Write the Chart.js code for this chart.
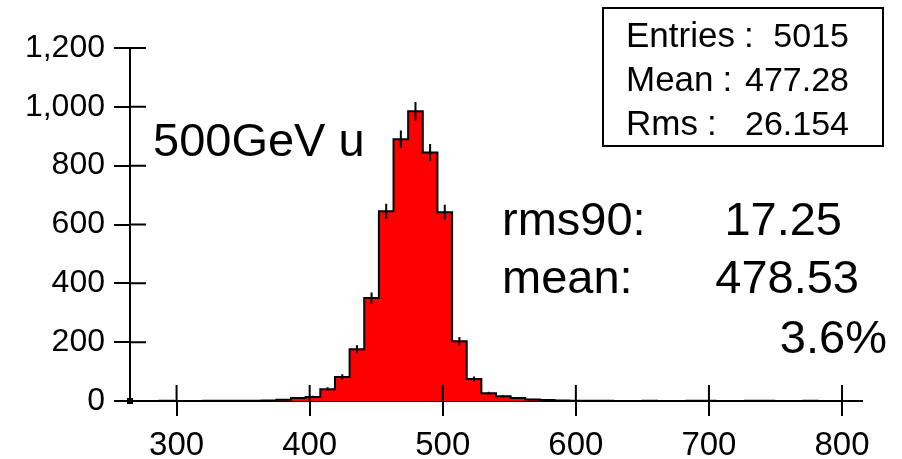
<!DOCTYPE html>
<html>
<head>
<meta charset="utf-8">
<script src="https://cdn.jsdelivr.net/npm/chart.js@4.4.1/dist/chart.umd.min.js"></script>
<style>
  html, body { margin: 0; padding: 0; background: #fff; }
  #wrap { width: 902px; height: 459px; }
</style>
</head>
<body>
<div id="wrap"><canvas id="histChart"></canvas></div>
<script>
// binning of the histogram (50 bins of 11 GeV)
var histMin = 265;
var histMax = 815;
var binWidth = 11;

// entries per bin
var counts = [
    0, 0, 1, 0, 0, 1, 1, 1, 1, 2,
    4, 10, 14, 40, 82, 176, 350, 645, 890, 985,
    845, 642, 203, 75, 26, 16, 10, 5, 3, 2,
    1, 1, 1, 0, 0, 1, 0, 0, 1, 1,
    0, 0, 1, 1, 0, 0, 1, 0, 0, 0
];

var xTicks = [300, 400, 500, 600, 700, 800];
var yTicks = [0, 200, 400, 600, 800, 1000, 1200];

var statsLabels = ['Entries', 'Mean', 'Rms'];
var statsValues = ['5015', '477.28', '26.154'];

var FONT = '"Liberation Sans", Arial, Helvetica, sans-serif';

var steps = counts.map((c, i) => ({ x: histMin + i * binWidth, y: c }));
steps.push({ x: histMax, y: counts[counts.length - 1] });

// ticks that cross the axis line, as in the original plot
var crossTicks = {
    id: 'crossTicks',
    afterDraw: function(chart) {
        var ctx = chart.ctx;
        var xs = chart.scales.x, ys = chart.scales.y;
        var y0 = ys.getPixelForValue(0);
        var x0 = xs.getPixelForValue(histMin);
        ctx.save();
        ctx.strokeStyle = '#000';
        ctx.lineWidth = 2;
        ctx.beginPath();
        xTicks.forEach(function(v) {
            var px = xs.getPixelForValue(v);
            ctx.moveTo(px, y0);
            ctx.lineTo(px, y0 - 16);
        });
        yTicks.forEach(function(v) {
            var py = ys.getPixelForValue(v);
            ctx.moveTo(x0, py);
            ctx.lineTo(x0 + 16, py);
        });
        ctx.stroke();
        ctx.fillStyle = '#000';
        ctx.fillRect(x0 - 3, y0 - 3, 6, 6);
        ctx.restore();
    }
};

// sqrt(N) error bars at bin centres
var errorBars = {
    id: 'errorBars',
    afterDatasetsDraw: function(chart) {
        var ctx = chart.ctx;
        var xs = chart.scales.x, ys = chart.scales.y;
        ctx.save();
        ctx.strokeStyle = '#000';
        ctx.lineWidth = 2;
        ctx.beginPath();
        counts.forEach(function(c, i) {
            if (c <= 0) return;
            var e = Math.sqrt(c);
            var px = xs.getPixelForValue(histMin + (i + 0.5) * binWidth);
            ctx.moveTo(px, ys.getPixelForValue(c + e));
            ctx.lineTo(px, ys.getPixelForValue(c - e));
        });
        ctx.stroke();
        ctx.restore();
    }
};

var textBoxes = {
    id: 'textBoxes',
    afterDraw: function(chart) {
        var ctx = chart.ctx;
        ctx.save();
        ctx.fillStyle = '#000';
        ctx.textBaseline = 'alphabetic';

        ctx.font = '47px ' + FONT;
        ctx.textAlign = 'left';
        ctx.fillText('500GeV u', 153, 156);
        ctx.fillText('rms90:', 502, 235);
        ctx.fillText('mean:', 502, 293);
        ctx.textAlign = 'right';
        ctx.fillText('17.25', 842, 235);
        ctx.fillText('478.53', 859, 293);
        ctx.fillText('3.6%', 887, 353);

        // stats box
        ctx.strokeStyle = '#000';
        ctx.lineWidth = 2;
        ctx.strokeRect(603, 8, 280, 138);
        for (var i = 0; i < statsLabels.length; i++) {
            var by = 47 + i * 44;
            ctx.font = '35px ' + FONT;
            ctx.textAlign = 'left';
            ctx.fillText(statsLabels[i], 626, by);
            ctx.fillText(':', 626 + ctx.measureText(statsLabels[i]).width + 9, by);
            ctx.font = '34px ' + FONT;
            ctx.textAlign = 'right';
            ctx.fillText(statsValues[i], 849, by);
        }
        ctx.restore();
    }
};

var histChart = new Chart(document.getElementById('histChart').getContext('2d'), {
    type: 'line',
    data: {
        datasets: [{
            label: '500GeV u',
            data: steps,
            stepped: true,
            borderColor: '#000',
            borderWidth: 2,
            backgroundColor: '#ff0000',
            fill: 'origin',
            pointRadius: 0,
            tension: 0
        }]
    },
    options: {
        responsive: true,
        maintainAspectRatio: false,
        animation: false,
        events: [],
        layout: { padding: { left: 0, top: 48, right: 40, bottom: 0 } },
        plugins: {
            legend: { display: false },
            tooltip: { enabled: false }
        },
        scales: {
            x: {
                type: 'linear',
                min: histMin,
                max: histMax,
                z: 1,
                afterBuildTicks: function(scale) { scale.ticks = xTicks.map(v => ({ value: v })); },
                afterFit: function(scale) { scale.height = 58; },
                border: { display: true, color: '#000', width: 2 },
                grid: { drawOnChartArea: false, drawTicks: true, tickLength: 15, color: '#000', lineWidth: 2 },
                ticks: { color: '#000', font: { family: FONT, size: 33 }, padding: 10, maxRotation: 0 }
            },
            y: {
                min: 0,
                max: 1200,
                z: 1,
                afterBuildTicks: function(scale) { scale.ticks = yTicks.map(v => ({ value: v })); },
                afterFit: function(scale) { scale.width = 130; },
                border: { display: true, color: '#000', width: 2 },
                grid: { drawOnChartArea: false, drawTicks: true, tickLength: 16, color: '#000', lineWidth: 2 },
                ticks: {
                    color: '#000',
                    font: { family: FONT, size: 32 },
                    padding: 9,
                    callback: function(v) { return v.toLocaleString('en-US'); }
                }
            }
        }
    },
    plugins: [errorBars, crossTicks, textBoxes]
});
</script>
</body>
</html>
